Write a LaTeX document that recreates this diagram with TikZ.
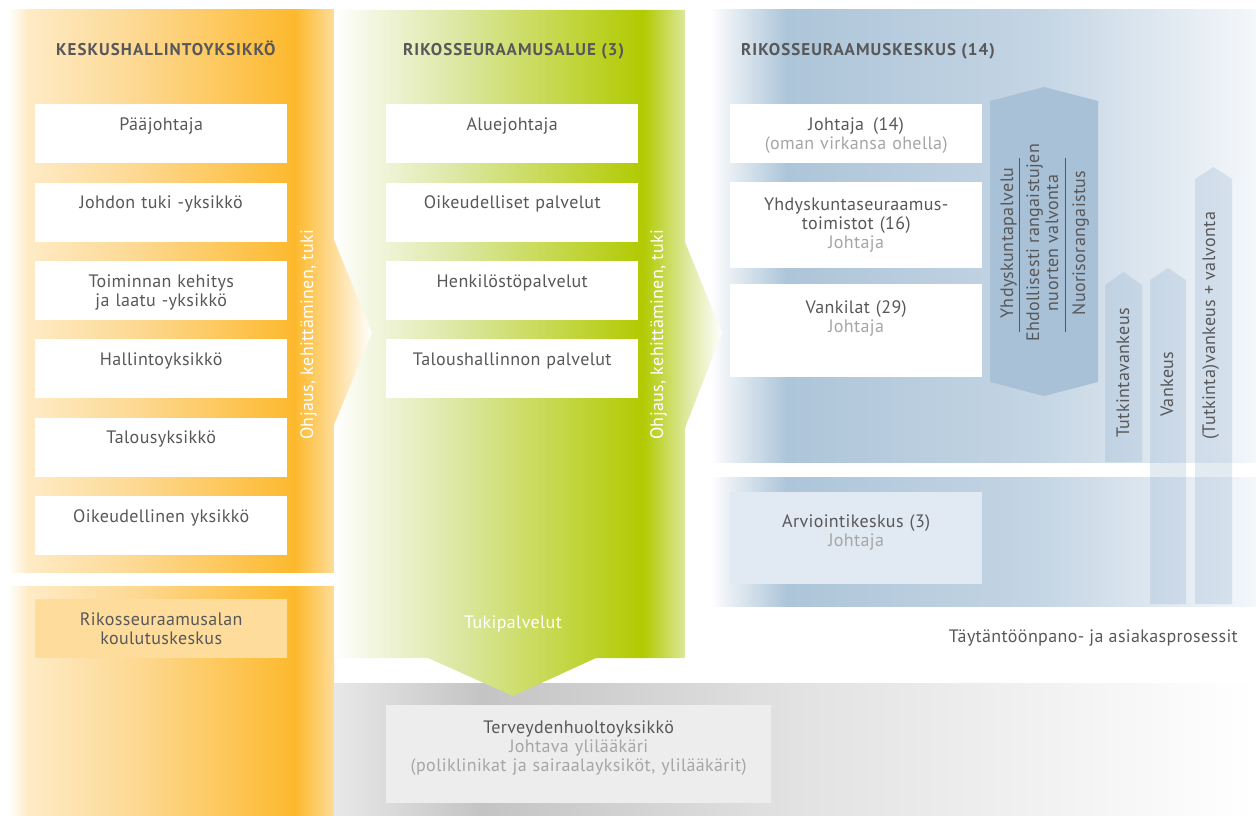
\documentclass[tikz,border=0pt]{standalone}
\usepackage{fontspec}
\setmainfont{PT Sans}
\newfontfamily\bodyfam[LetterSpace=2]{PT Sans}
\newfontfamily\titlefam[LetterSpace=6]{PT Sans}
\usetikzlibrary{positioning}

\definecolor{txtdark}{HTML}{58585A}
\definecolor{txtlight}{HTML}{A6A6A6}
\definecolor{orangeA}{HTML}{FEEBC6}
\definecolor{orangeB}{HTML}{FDD891}
\definecolor{orangeC}{HTML}{FDB92D}
\definecolor{orangeD}{HTML}{FEDC98}
\definecolor{orangebox}{HTML}{FEDD9C}
\definecolor{greenA}{HTML}{F3F7E2}
\definecolor{greenB}{HTML}{DDE8A6}
\definecolor{greenC}{HTML}{B1CA00}
\definecolor{greenD}{HTML}{DCE79A}
\definecolor{blueA}{HTML}{E6EDF3}
\definecolor{blueB}{HTML}{ADC5D9}
\definecolor{blueC}{HTML}{C4D5E4}
\definecolor{blueD}{HTML}{F4F7FA}
\definecolor{bluehex}{HTML}{A9C1D6}
\definecolor{blueup}{HTML}{8AAACB}
\definecolor{bluebox}{HTML}{E1E9F2}
\definecolor{grayA}{HTML}{E8E8E8}
\definecolor{grayB}{HTML}{C5C4C4}
\definecolor{grayC}{HTML}{E2E2E2}
\definecolor{graybox}{HTML}{EDEDED}

\pgfdeclarehorizontalshading{orangefade}{100bp}{color(0bp)=(white); color(25bp)=(white);
  color(28bp)=(orangeA); color(45bp)=(orangeB); color(69bp)=(orangeC); color(75bp)=(orangeD);
  color(100bp)=(orangeD)}
\pgfdeclarehorizontalshading{greenfade}{100bp}{color(0bp)=(white); color(25bp)=(white);
  color(30bp)=(greenA); color(42bp)=(greenB); color(69bp)=(greenC); color(75bp)=(greenD);
  color(100bp)=(greenD)}
\pgfdeclarehorizontalshading{bluefade}{100bp}{color(0bp)=(white); color(25bp)=(white);
  color(27bp)=(blueA); color(32bp)=(blueB); color(55bp)=(blueC); color(75bp)=(blueD);
  color(100bp)=(blueD)}
\pgfdeclarehorizontalshading{grayfade}{100bp}{color(0bp)=(grayA); color(25bp)=(grayA);
  color(33bp)=(grayB); color(50bp)=(grayC); color(75bp)=(white); color(100bp)=(white)}

\newcommand{\bodyfont}{\bodyfam\fontsize{18}{19}\selectfont}
\newcommand{\sub}[1]{\textcolor{txtlight}{#1}}

\begin{document}
\begin{tikzpicture}[x=1pt, y=-1pt,
    unitbox/.style={fill=white, text width=236pt, inner xsep=8pt, inner ysep=0pt,
      align=center, text height=26pt, text depth=33pt, font=\bodyfont, text=txtdark},
    title/.style={anchor=base west, inner sep=0pt,
      font=\titlefam\fontsize{17}{19}\selectfont\bfseries, text=txtdark},
    sidetext/.style={rotate=90, anchor=base west, inner sep=0pt, font=\bodyfont, text=white},
    lanetext/.style={rotate=90, inner sep=0pt, font=\bodyfont, text=txtdark},
    uparrow/.style={fill=blueup, fill opacity=0.25}]
\useasboundingbox (0,0) rectangle (1256,816);

% background columns
\shade[shading=orangefade] (8,10) rectangle (334,572);
\shade[shading=orangefade] (8,586) rectangle (334,816);
\shade[shading=grayfade] (334,683) rectangle (1256,816);
\shade[shading=greenfade] (334,10) -- (685,10) -- (685,658) -- (596,658) -- (513,696)
        -- (428,658) -- (334,658) -- cycle;
\shade[shading=bluefade] (710,10) rectangle (1256,462);
\shade[shading=bluefade] (710,477) rectangle (1256,606);

% arrows between columns
\shade[left color=orangeD, right color=white] (334,240) -- (372,333) -- (334,425) -- cycle;
\shade[left color=greenD, right color=white] (685,242) -- (722,333) -- (685,428) -- cycle;

% processes
\fill[bluehex] (990,101) -- (1044,87) -- (1098,101) -- (1098,382) -- (1044,396) -- (990,382) -- cycle;
\fill[uparrow] (1105,462) -- (1105,285) -- (1123.5,272) -- (1142,285) -- (1142,462) -- cycle;
\fill[uparrow] (1150,604) -- (1150,280) -- (1168,268) -- (1186,280) -- (1186,604) -- cycle;
\fill[uparrow] (1195,604) -- (1195,179) -- (1213.5,167) -- (1232,179) -- (1232,604) -- cycle;

% titles
\node[title] (keskus) at (56,56) {KESKUSHALLINTOYKSIKKÖ};
\node[title] (alue) at (403,56) {RIKOSSEURAAMUSALUE (3)};
\node[title] (rsk) at (741,56) {RIKOSSEURAAMUSKESKUS (14)};

% keskushallintoyksikkö
\node[unitbox, anchor=north west] (paajohtaja) at (35,104) {Pääjohtaja};
\node[unitbox, below=19pt of paajohtaja] (johdontuki) {Johdon tuki -yksikkö};
\node[unitbox, below=19pt of johdontuki] (kehitys) {Toiminnan kehitys\\ ja laatu -yksikkö};
\node[unitbox, below=19pt of kehitys] (hallinto) {Hallintoyksikkö};
\node[unitbox, below=19pt of hallinto] (talousyks) {Talousyksikkö};
\node[unitbox, below=19pt of talousyks] (oikeudyks) {Oikeudellinen yksikkö};
\node[unitbox, fill=orangebox, anchor=north west] (koulutus) at (35,599)
        {Rikosseuraamusalan\\ koulutuskeskus};

% rikosseuraamusalue
\node[unitbox, anchor=north west] (aluejohtaja) at (386,104) {Aluejohtaja};
\node[unitbox, below=19pt of aluejohtaja] (oikeudpalv) {Oikeudelliset palvelut};
\node[unitbox, below=19pt of oikeudpalv] (henkilosto) {Henkilöstöpalvelut};
\node[unitbox, below=19pt of henkilosto] (taloushall) {Taloushallinnon palvelut};

% rikosseuraamuskeskus
\node[unitbox, anchor=north west] (johtaja) at (730,104) {Johtaja\enspace(14)\\ \sub{(oman virkansa ohella)}};
\node[unitbox, text height=28pt, text depth=58pt, anchor=north west] (yhdyskunta) at (730,182)
        {Yhdyskuntaseuraamus-\\ toimistot (16)\\ \sub{Johtaja}};
\node[unitbox, text height=29pt, text depth=64pt, anchor=north west] (vankilat) at (730,284)
        {Vankilat (29)\\ \sub{Johtaja}};
\node[unitbox, fill=bluebox, text height=35pt, text depth=57pt, anchor=north west] (arviointi) at (730,492)
        {Arviointikeskus (3)\\ \sub{Johtaja}};

% terveydenhuolto
\node[unitbox, fill=graybox, text width=369pt, text height=28pt, text depth=70pt, anchor=north west]
        (terveys) at (386,705)
        {Terveydenhuoltoyksikkö\\ \sub{Johtava ylilääkäri}\\ \sub{(poliklinikat ja sairaalayksiköt, ylilääkärit)}};

% side labels
\node[sidetext] (ohjaus1) at (313,440) {Ohjaus, kehittäminen, tuki};
\node[sidetext] (ohjaus2) at (663,440) {Ohjaus, kehittäminen, tuki};
\node[anchor=base, inner sep=0pt, font=\bodyfont, text=white] (tuki) at (513,628) {Tukipalvelut};
\node[anchor=base east, inner sep=0pt, font=\bodyfont, text=txtdark] (prosessit) at (1238,642)
        {Täytäntöönpano- ja asiakasprosessit};

% process labels
\node[lanetext, anchor=base] (yhdpalvelu) at (1013,243) {Yhdyskuntapalvelu};
\node[lanetext, anchor=base, align=center] (ehdoll) at (1058,243)
        {Ehdollisesti rangaistujen\\ nuorten valvonta};
\node[lanetext, anchor=base] (nuoriso) at (1085,243) {Nuorisorangaistus};
\draw[txtdark, line width=0.8pt] (1019,158) -- (1019,332);
\draw[txtdark, line width=0.8pt] (1065,158) -- (1065,332);
\node[lanetext, anchor=base west] (tutkinta) at (1129,438) {Tutkintavankeus};
\node[lanetext, anchor=base west] (vankeus) at (1173,417) {Vankeus};
\node[lanetext, anchor=base west] (valvonta) at (1215,440) {(Tutkinta)vankeus + valvonta};
\end{tikzpicture}
\end{document}
